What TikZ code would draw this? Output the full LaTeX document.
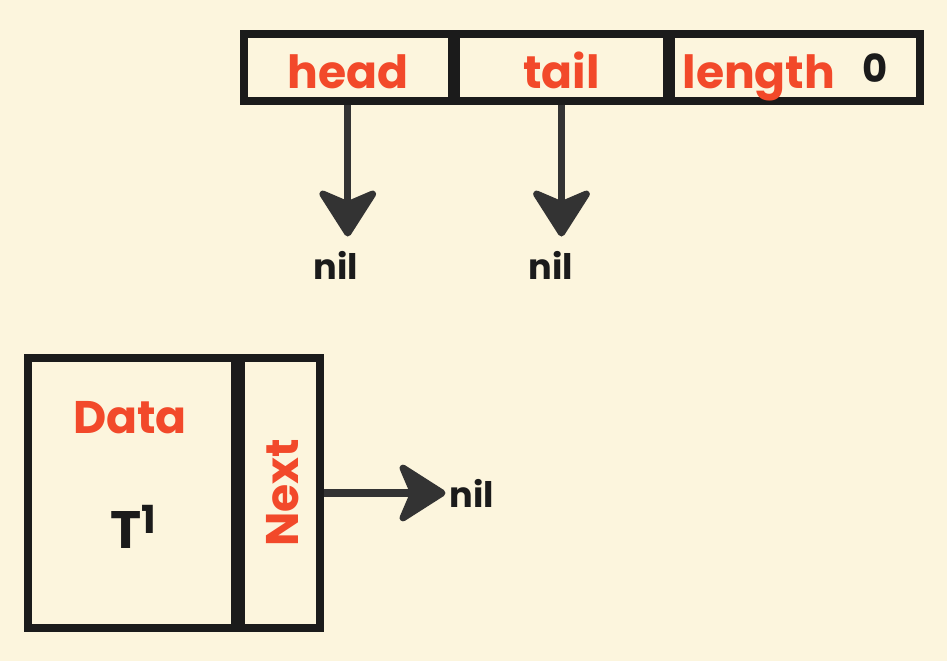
\documentclass[tikz,border=0pt]{standalone}
\usepackage{fontspec}
\setmainfont{Poppins}
\usetikzlibrary{arrows.meta,positioning}
\definecolor{bgcream}{HTML}{FCF5DD}
\definecolor{labelred}{HTML}{F2492A}
\definecolor{inkdark}{HTML}{1B1B1B}
\definecolor{arrowgray}{HTML}{333333}
\tikzset{
  field/.style={draw=inkdark,line width=4.2pt,fill=bgcream,inner sep=0pt,
                font=\fontsize{26}{28}\selectfont\bfseries,text=labelred,
                text height=24.7pt,text depth=1.3pt},
  nilword/.style={inner sep=0pt,font=\fontsize{20}{22}\selectfont\bfseries,text=inkdark},
  ptr/.style={-{Stealth[length=30pt,width=38pt,inset=8pt,round]},line width=4pt,
              draw=arrowgray}
}

\begin{document}
\begin{tikzpicture}[x=0.02cm,y=-0.02cm]
  \useasboundingbox[fill=bgcream] (0,0) rectangle (947,661);

  % List header: head / tail / length
  \node[field,minimum width=4.15cm,minimum height=1.34cm] (headcell) at (347.75,67.5) {head};
  \node[field,minimum width=4.2cm,minimum height=1.34cm] (tailcell) at (561.5,67.5) {tail};
  \node[field,minimum width=4.97cm,minimum height=1.34cm] (lencell) at (795.75,67.5)
    {\hspace{-12pt}length\hspace{0.6em}\textcolor{inkdark}{\raisebox{3pt}{\fontsize{22}{24}\selectfont 0}}};

  \node[nilword] (headnil) at (336,265) {nil};
  \node[nilword] (tailnil) at (551,265) {nil};
  \draw[ptr,shorten >=8pt] (headcell.south) -- (headcell.south |- headnil.north);
  \draw[ptr,shorten >=8pt] (tailcell.south) -- (tailcell.south |- tailnil.north);

  % Single node: data part and next pointer
  \node[field,minimum width=4.14cm,minimum height=5.4cm] (datacell) at (131.5,493) {};
  \node[field,minimum width=1.58cm,minimum height=5.4cm] (nextcell) at (280.5,493) {};
  \node[font=\fontsize{26}{28}\selectfont\bfseries,text=labelred] (datalbl) at (130,418) {Data};
  \node[font=\fontsize{30}{32}\selectfont\bfseries,text=inkdark] (datavalue) at (133,527)
    {T\raisebox{0.28em}{\fontsize{22}{24}\selectfont 1}};
  \node[rotate=90,font=\fontsize{26}{28}\selectfont\bfseries,text=labelred] (nextlbl)
    at (283,493) {Next};

  \node[nilword,anchor=west] (nextnil) at (449,493) {nil};
  \draw[ptr,shorten >=2pt] (nextcell.east) -- (nextnil.west);
\end{tikzpicture}
\end{document}
